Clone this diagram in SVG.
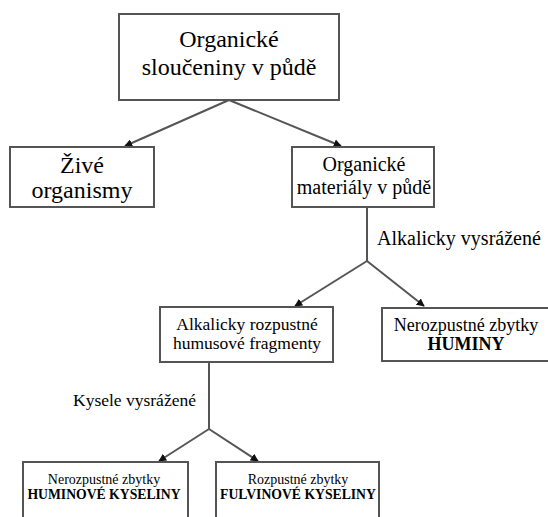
<svg xmlns="http://www.w3.org/2000/svg" width="548" height="517" viewBox="0 0 548 517">
<style>
.box{fill:#fff;stroke:#555;stroke-width:2}
.t{font-family:"Liberation Serif",Tinos,"Times New Roman",Times,"DejaVu Serif","Noto Serif",FreeSerif,serif;fill:#000;text-anchor:middle}
.b{font-weight:bold}
.lab{font-family:"Liberation Serif",Tinos,"Times New Roman",Times,"DejaVu Serif","Noto Serif",FreeSerif,serif;fill:#000}
.c{stroke:#555;stroke-width:2;fill:none}
</style>
<defs>
<marker id="ah" viewBox="0 0 10 10" refX="9" refY="5" markerWidth="4" markerHeight="4" orient="auto" markerUnits="strokeWidth">
<path d="M0,0 L10,5 L0,10 z" fill="#111"/>
</marker>
</defs>
<rect width="548" height="517" fill="#fff"/>
<g id="connectors">
<line class="c" x1="229" y1="100" x2="125" y2="146" marker-end="url(#ah)"/>
<line class="c" x1="229" y1="100" x2="341" y2="146" marker-end="url(#ah)"/>
<polyline class="c" points="367,207 367,261"/>
<line class="c" x1="367" y1="261" x2="295" y2="306" marker-end="url(#ah)"/>
<line class="c" x1="367" y1="261" x2="424" y2="306" marker-end="url(#ah)"/>
<polyline class="c" points="209,362 209,429"/>
<line class="c" x1="209" y1="429" x2="159" y2="461" marker-end="url(#ah)"/>
<line class="c" x1="209" y1="429" x2="258" y2="461" marker-end="url(#ah)"/>
<text class="lab" x="377" y="245" font-size="20">Alkalicky vysrážené</text>
<text class="lab" x="73" y="406" font-size="17.5">Kysele vysrážené</text>
</g>
<g id="n1">
<rect class="box" x="119" y="14" width="220" height="86"/>
<text class="t" x="229" y="47" font-size="24">Organické</text>
<text class="t" x="229" y="75" font-size="24">sloučeniny v půdě</text>
</g>
<g id="n2">
<rect class="box" x="10" y="147" width="144" height="60"/>
<text class="t" x="82" y="173" font-size="24">Živé</text>
<text class="t" x="82" y="198" font-size="24">organismy</text>
</g>
<g id="n3">
<rect class="box" x="292" y="147" width="142" height="60"/>
<text class="t" x="364" y="171" font-size="20">Organické</text>
<text class="t" x="364" y="194" font-size="20">materiály v půdě</text>
</g>
<g id="n4">
<rect class="box" x="160" y="307" width="173" height="55"/>
<text class="t" x="247" y="330" font-size="17.5">Alkalicky rozpustné</text>
<text class="t" x="247" y="349" font-size="17.5">humusové fragmenty</text>
</g>
<g id="n5">
<rect class="box" x="382" y="308" width="180" height="53"/>
<text class="t" x="466" y="331" font-size="18">Nerozpustné zbytky</text>
<text class="t b" x="466" y="350" font-size="18">HUMINY</text>
</g>
<g id="n6">
<rect class="box" x="23" y="462" width="165" height="70"/>
<text class="t" x="104" y="484" font-size="14">Nerozpustné zbytky</text>
<text class="t b" x="104" y="499" font-size="13.7">HUMINOVÉ KYSELINY</text>
</g>
<g id="n7">
<rect class="box" x="216" y="462" width="163" height="70"/>
<text class="t" x="298" y="484" font-size="14">Rozpustné zbytky</text>
<text class="t b" x="298" y="499" font-size="13.7">FULVINOVÉ KYSELINY</text>
</g>
</svg>
